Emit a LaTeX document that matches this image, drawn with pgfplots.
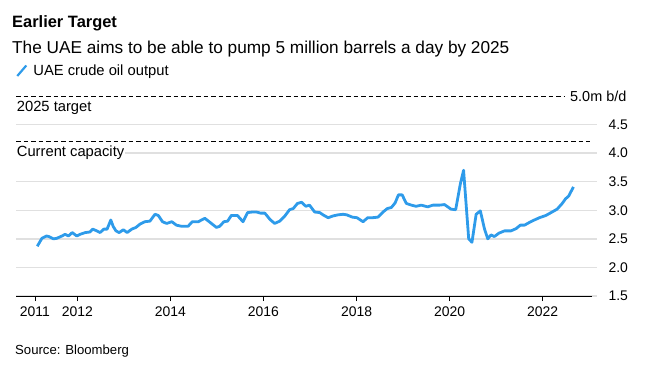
\documentclass[border=0pt]{standalone}
\usepackage{pgfplots}
\pgfplotsset{compat=1.18}
\usepackage{fontspec}
\setmainfont{Liberation Sans}
\definecolor{uaeblue}{HTML}{2E9BEA}
\definecolor{gridgray}{HTML}{E0E0E0}
\begin{document}
\begin{tikzpicture}[x=1bp,y=1bp]
\path[use as bounding box] (0,0) rectangle (653,371);
\node[anchor=base west, inner sep=0, font=\bfseries\fontsize{16.5}{18}\selectfont] at (12,343.3) {Earlier Target};
\node[anchor=base west, inner sep=0, font=\fontsize{17.3}{19}\selectfont] at (12,317.7) {The UAE aims to be able to pump 5 million barrels a day by 2025};
\node[anchor=base west, inner sep=0, font=\fontsize{13.2}{15}\selectfont] at (15,17) {Source: Bloomberg};
\begin{axis}[
  at={(16bp,75bp)}, anchor=south west, scale only axis,
  width=581bp, height=200bp,
  xmin=2010.683, xmax=2023.167, ymin=1.5, ymax=5.0,
  clip=false,
  axis line style={draw=none},
  ytick={1.5,2.0,2.5,3.0,3.5,4.0,4.5},
  yticklabels={1.5,2.0,2.5,3.0,3.5,4.0,4.5},
  yticklabel pos=right,
  ytick style={draw=none},
  ymajorgrids=true,
  grid style={gridgray, line width=1.5bp},
  xtick={2011.09,2012,2014,2016,2018,2020,2022},
  xticklabels={2011,2012,2014,2016,2018,2020,2022},
  xtick pos=bottom,
  tick align=outside,
  major tick length=5bp,
  xtick style={black, line width=0.8bp},
  /pgf/number format/assume math mode=true,
  tick label style={font=\fontsize{14}{16}\selectfont, black},
  yticklabel style={anchor=west, xshift=3bp},
  xticklabel style={yshift=-2bp},
  legend style={draw=none, fill=none, at={(axis description cs:0.0,1.125)}, anchor=west, font=\fontsize{14.8}{16}\selectfont, inner sep=0pt, column sep=4bp},
  legend cell align=left,
  legend image code/.code={\draw[#1, line width=2.2bp] (0bp,-5bp) -- (9bp,5.5bp);},
]
\addplot[uaeblue, line width=2.8bp, line join=round] coordinates {
(2011.14,2.37) (2011.24,2.51) (2011.34,2.55) (2011.39,2.54) (2011.49,2.50)
(2011.56,2.51) (2011.67,2.55) (2011.74,2.58) (2011.81,2.55) (2011.89,2.61)
(2011.99,2.55) (2012.06,2.58) (2012.17,2.61) (2012.27,2.62) (2012.33,2.67)
(2012.42,2.64) (2012.49,2.61) (2012.57,2.67) (2012.64,2.67) (2012.72,2.83)
(2012.77,2.72) (2012.83,2.64) (2012.90,2.61) (2012.99,2.66) (2013.07,2.61)
(2013.17,2.67) (2013.26,2.70) (2013.35,2.76) (2013.45,2.80) (2013.56,2.81)
(2013.67,2.93) (2013.74,2.91) (2013.83,2.80) (2013.92,2.77) (2014.03,2.80)
(2014.13,2.74) (2014.24,2.72) (2014.38,2.72) (2014.47,2.80) (2014.60,2.80)
(2014.74,2.86) (2014.85,2.79) (2014.99,2.70) (2015.06,2.72) (2015.15,2.80)
(2015.23,2.81) (2015.31,2.91) (2015.44,2.91) (2015.56,2.80) (2015.66,2.96)
(2015.76,2.97) (2015.85,2.97) (2015.94,2.95) (2016.03,2.95) (2016.14,2.84)
(2016.24,2.77) (2016.35,2.81) (2016.46,2.90) (2016.56,3.01) (2016.64,3.03)
(2016.73,3.12) (2016.82,3.14) (2016.91,3.07) (2016.99,3.09) (2017.10,2.97)
(2017.21,2.96) (2017.28,2.92) (2017.39,2.87) (2017.49,2.90) (2017.60,2.92)
(2017.71,2.93) (2017.79,2.92) (2017.91,2.88) (2018.01,2.87) (2018.14,2.80)
(2018.24,2.87) (2018.34,2.87) (2018.46,2.88) (2018.57,2.97) (2018.66,3.03)
(2018.75,3.05) (2018.83,3.13) (2018.90,3.27) (2018.98,3.27) (2019.07,3.12)
(2019.18,3.09) (2019.28,3.07) (2019.39,3.09) (2019.53,3.06) (2019.64,3.09)
(2019.78,3.09) (2019.89,3.10) (2020.03,3.02) (2020.13,3.01) (2020.23,3.46)
(2020.30,3.70) (2020.41,2.50) (2020.48,2.44) (2020.57,2.93) (2020.66,2.99)
(2020.75,2.67) (2020.82,2.50) (2020.89,2.57) (2020.96,2.54) (2021.06,2.60)
(2021.18,2.64) (2021.32,2.64) (2021.43,2.68) (2021.52,2.74) (2021.61,2.74)
(2021.72,2.79) (2021.82,2.83) (2021.93,2.87) (2022.07,2.91) (2022.18,2.96)
(2022.31,3.02) (2022.42,3.12) (2022.49,3.20) (2022.56,3.25) (2022.66,3.41)
};
\addlegendentry{UAE crude oil output}
\draw[black, line width=1bp] (axis cs:2010.683,1.5) -- (axis cs:2023.05,1.5);
\draw[black, line width=1bp, dash pattern=on 4.5bp off 3bp] (axis cs:2010.683,5.0) -- (axis cs:2022.479,5.0);
\draw[black, line width=1bp, dash pattern=on 4.5bp off 3bp] (axis cs:2010.683,4.2) -- (axis cs:2023.016,4.2);
\node[anchor=west, inner sep=0, font=\fontsize{14.5}{16}\selectfont, xshift=5bp] at (axis cs:2022.479,5.0) {5.0m b/d};
\end{axis}
\node[anchor=base west, inner sep=0, font=\fontsize{14.8}{16}\selectfont] at (16.7,259.3) {2025 target};
\node[anchor=base west, inner xsep=1bp, inner ysep=2bp, fill=white, font=\fontsize{14.8}{16}\selectfont] at (15.7,215) {Current capacity};
\end{tikzpicture}
\end{document}
